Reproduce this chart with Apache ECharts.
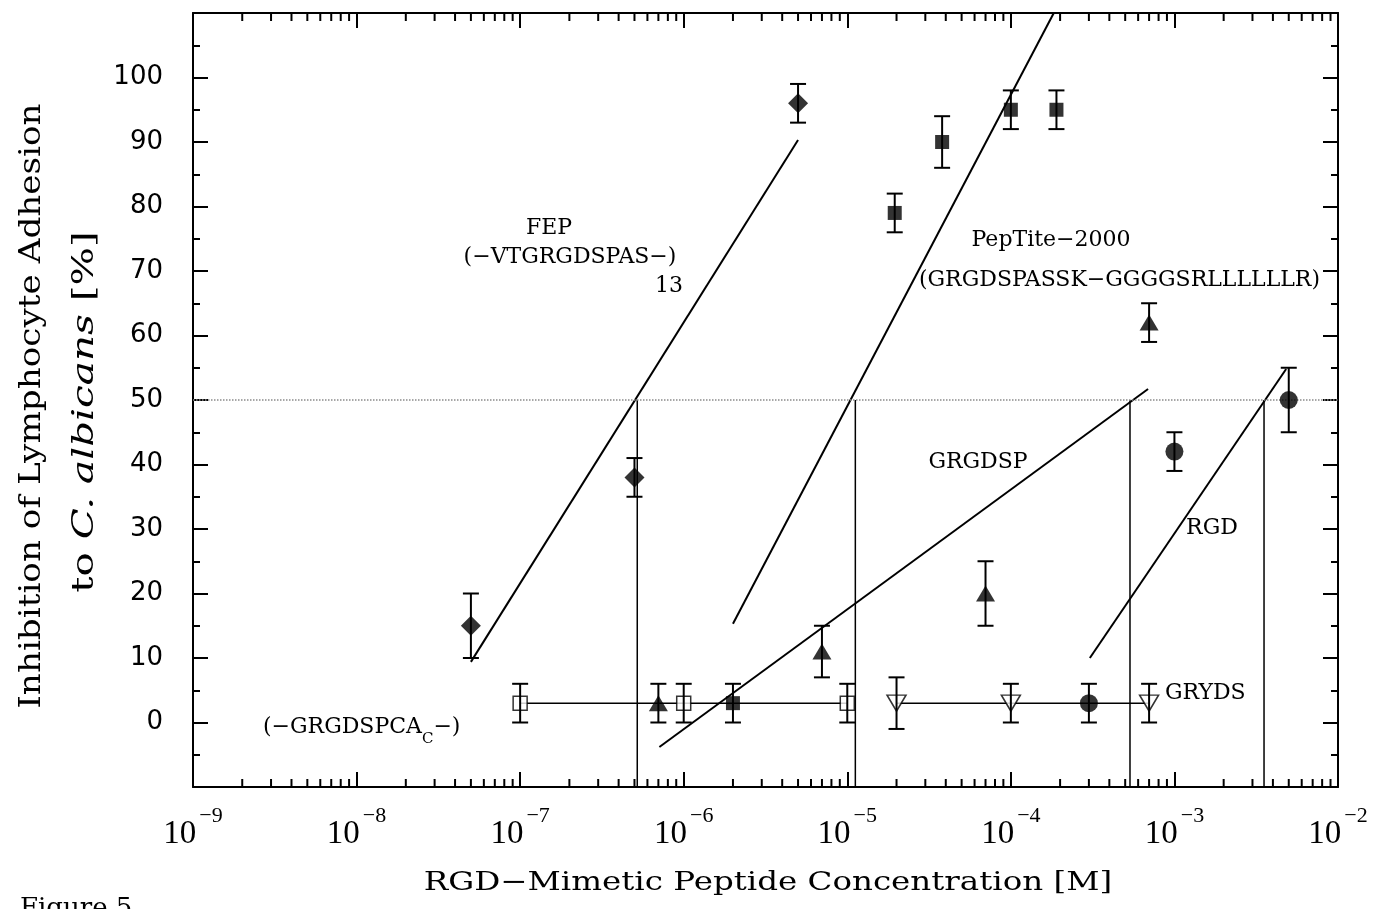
<!DOCTYPE html>
<html><head><meta charset="utf-8">
<script src="https://cdn.jsdelivr.net/npm/echarts@6/dist/echarts.min.js"></script>
<style>html,body{margin:0;padding:0;background:#fff}#c{width:1378px;height:909px}</style>
</head><body><div id="c"></div>
<script>
// ---- data ----
const xTickExponents = [-9, -8, -7, -6, -5, -4, -3, -2];
const yTickLabels = [0, 10, 20, 30, 40, 50, 60, 70, 80, 90, 100];

const fepX = [5e-8, 5e-7, 5e-6];
const fepY = [15, 38, 96];
const fepErr = [5, 3, 3];
const fepFitX = [5e-8, 5e-6];
const fepFitY = [9.4, 90.3];
const fepIC50 = 5.2e-7;

const pepX = [2e-6, 1.95e-5, 3.8e-5, 1e-4, 1.9e-4];
const pepY = [3, 79, 90, 95, 95];
const pepErr = [3, 3, 4, 3, 3];
const pepFitX = [2e-6, 1.83e-4];
const pepFitY = [15.3, 110];
const pepIC50 = 1.12e-5;

const grgdspX = [7e-7, 7e-6, 7e-5, 7e-4];
const grgdspY = [3, 11, 20, 62];
const grgdspErr = [3, 4, 5, 3];
const grgdspFitX = [7.1e-7, 6.9e-4];
const grgdspFitY = [-3.8, 51.7];
const grgdspIC50 = 5.35e-4;

const rgdX = [3e-4, 1e-3, 5e-3];
const rgdY = [3, 42, 50];
const rgdErr = [3, 3, 5];
const rgdFitX = [3.04e-4, 4.82e-3];
const rgdFitY = [10, 54.8];
const rgdIC50 = 3.53e-3;

const grgdspcaX = [1e-7, 1e-6, 1e-5];
const grgdspcaY = [3, 3, 3];
const grgdspcaErr = [3, 3, 3];

const grydsX = [2e-5, 1e-4, 7e-4];
const grydsY = [3, 3, 3];
const grydsErr = [4, 3, 3];

const yMin = -10, yMax = 110;

// ---- helpers ----
const pairs = (xs, ys) => xs.map((x, i) => [x, ys[i]]);
const errData = (xs, ys, es) => xs.map((x, i) => [x, ys[i] - es[i], ys[i] + es[i]]);
const vline = x => [[x, 50], [x, yMin]];
const BLACK = '#000';
const SERIF = '"DejaVu Serif", serif';

const minorVals = [];
for (let e = xTickExponents[0]; e < xTickExponents[xTickExponents.length - 1]; e++)
  for (let m = 2; m <= 9; m++) minorVals.push([m * Math.pow(10, e), 0]);

const allErr = [].concat(
  errData(fepX, fepY, fepErr), errData(pepX, pepY, pepErr),
  errData(grgdspX, grgdspY, grgdspErr), errData(rgdX, rgdY, rgdErr),
  errData(grgdspcaX, grgdspcaY, grgdspcaErr), errData(grydsX, grydsY, grydsErr));

const lineSeries = (data, width, z) => ({
  type: 'line', data, symbol: 'none', silent: true, z: z || 2,
  lineStyle: { color: BLACK, width: width || 2 }, animation: false
});

const chart = echarts.init(document.getElementById('c'), null, { renderer: 'canvas' });

const xAxisBase = {
  type: 'log', logBase: 10, min: 1e-9, max: 1e-2, splitNumber: 7,
  axisLine: { show: true, onZero: false, lineStyle: { color: BLACK, width: 2 } },
  axisTick: { show: true, inside: true, length: 15, lineStyle: { color: BLACK, width: 2 } },
  splitLine: { show: false }, minorTick: { show: false }
};
const yAxisBase = {
  type: 'value', min: yMin, max: yMax, interval: 10,
  axisLine: { show: true, onZero: false, lineStyle: { color: BLACK, width: 2 } },
  axisTick: { show: true, inside: true, length: 15, lineStyle: { color: BLACK, width: 2 } },
  minorTick: { show: true, splitNumber: 2, length: 7, lineStyle: { color: BLACK, width: 2 } },
  splitLine: { show: false }
};

const annot = (text, x, y, align) => ({
  type: 'text', x, y,
  style: { text, font: '22px ' + SERIF, fill: BLACK, align: align || 'center', verticalAlign: 'middle' }
});

chart.setOption({
  animation: false,
  backgroundColor: '#fff',
  grid: { left: 193, right: 40, top: 13, bottom: 122, containLabel: false },
  xAxis: [
    Object.assign({}, xAxisBase, {
      position: 'bottom',
      axisLabel: {
        margin: 18,
        formatter: v => {
          const e = Math.round(Math.log10(v));
          if (xTickExponents.indexOf(e) < 0) return '';
          return '{b|10}{s|' + (e < 0 ? '\u2212' : '') + Math.abs(e) + '}';
        },
        rich: {
          b: { fontFamily: '"Liberation Serif", serif', fontSize: 33, lineHeight: 46, verticalAlign: 'bottom', color: BLACK },
          s: { fontFamily: '"Liberation Serif", serif', fontSize: 22, lineHeight: 22, verticalAlign: 'top', color: BLACK, padding: [0, 0, 0, 3] }
        }
      }
    }),
    Object.assign({}, xAxisBase, { position: 'top', axisLabel: { show: false } })
  ],
  yAxis: [
    Object.assign({}, yAxisBase, {
      position: 'left',
      axisLabel: {
        margin: 30, color: BLACK, fontFamily: '"DejaVu Sans", sans-serif', fontSize: 26,
        formatter: v => yTickLabels.indexOf(v) >= 0 ? String(v) : ''
      }
    }),
    Object.assign({}, yAxisBase, { position: 'right', axisLabel: { show: false } })
  ],
  series: [
    // minor log ticks (bottom and top)
    {
      type: 'custom', silent: true, z: 3, clip: false, data: minorVals, encode: { x: 0, y: 1 },
      renderItem: (params, api) => {
        const v = api.value(0);
        const b = api.coord([v, yMin]);
        const t = api.coord([v, yMax]);
        const st = { stroke: BLACK, lineWidth: 2 };
        return { type: 'group', children: [
          { type: 'line', shape: { x1: b[0], y1: b[1], x2: b[0], y2: b[1] - 8 }, style: st },
          { type: 'line', shape: { x1: t[0], y1: t[1], x2: t[0], y2: t[1] + 8 }, style: st }
        ]};
      }
    },
    // fitted lines
    Object.assign(lineSeries(pairs(fepFitX, fepFitY)), {
      markLine: {
        silent: true, symbol: 'none', label: { show: false },
        lineStyle: { type: 'dotted', color: '#8a8a8a', width: 1.5 },
        data: [{ yAxis: 50 }]
      }
    }),
    lineSeries(pairs(pepFitX, pepFitY)),
    lineSeries(pairs(grgdspFitX, grgdspFitY)),
    lineSeries(pairs(rgdFitX, rgdFitY)),
    // IC50 drop lines
    lineSeries(vline(fepIC50), 1.5),
    lineSeries(vline(pepIC50), 1.5),
    lineSeries(vline(grgdspIC50), 1.5),
    lineSeries(vline(rgdIC50), 1.5),
    // connectors of the flat series
    lineSeries(pairs(grgdspcaX, grgdspcaY), 1.5),
    lineSeries(pairs(grydsX, grydsY), 1.5),
    // open markers
    { type: 'scatter', z: 4, data: pairs(grgdspcaX, grgdspcaY), symbol: 'rect', symbolSize: 14,
      itemStyle: { color: '#fff', borderColor: BLACK, borderWidth: 1.5 } },
    { type: 'scatter', z: 4, data: pairs(grydsX, grydsY), symbol: 'triangle', symbolRotate: 180, symbolSize: [19, 16],
      itemStyle: { color: '#fff', borderColor: BLACK, borderWidth: 1.5 } },
    // error bars
    {
      type: 'custom', silent: true, z: 5, clip: false, data: allErr, encode: { x: 0, y: [1, 2] },
      renderItem: (params, api) => {
        const x = api.value(0);
        const lo = api.coord([x, api.value(1)]);
        const hi = api.coord([x, api.value(2)]);
        const w = 8;
        const st = { stroke: BLACK, lineWidth: 2 };
        return { type: 'group', children: [
          { type: 'line', shape: { x1: lo[0], y1: lo[1], x2: hi[0], y2: hi[1] }, style: st },
          { type: 'line', shape: { x1: lo[0] - w, y1: lo[1], x2: lo[0] + w, y2: lo[1] }, style: st },
          { type: 'line', shape: { x1: hi[0] - w, y1: hi[1], x2: hi[0] + w, y2: hi[1] }, style: st }
        ]};
      }
    },
    // filled markers
    { type: 'scatter', z: 6, data: pairs(fepX, fepY), symbol: 'diamond', symbolSize: [20, 20], itemStyle: { color: BLACK } },
    { type: 'scatter', z: 6, data: pairs(pepX, pepY), symbol: 'rect', symbolSize: 14, itemStyle: { color: BLACK } },
    { type: 'scatter', z: 6, data: pairs(grgdspX, grgdspY), symbol: 'triangle', symbolSize: [19, 16], itemStyle: { color: BLACK } },
    { type: 'scatter', z: 6, data: pairs(rgdX, rgdY), symbol: 'circle', symbolSize: 18, itemStyle: { color: BLACK } }
  ],
  graphic: [
    annot('FEP', 549, 228),
    annot('(\u2212VTGRGDSPAS\u2212)', 570, 257),
    annot('13', 669, 286),
    annot('PepTite\u22122000', 1051, 240),
    annot('(GRGDSPASSK\u2212GGGGSRLLLLLLR)', 1320, 280, 'right'),
    annot('GRGDSP', 978, 462),
    annot('RGD', 1212, 528),
    annot('GRYDS', 1165, 693, 'left'),
    { type: 'text', x: 263, y: 716, style: {
        text: '{a|(\u2212GRGDSPCA}{s|C}{a|\u2212)}', align: 'left', verticalAlign: 'top',
        rich: {
          a: { fontFamily: SERIF, fontSize: 22, lineHeight: 22, verticalAlign: 'top', fill: BLACK },
          s: { fontFamily: SERIF, fontSize: 15, lineHeight: 31, verticalAlign: 'bottom', fill: BLACK }
        } } },
    // axis titles
    { type: 'text', x: 768, y: 883, scaleX: 1.25, style: { text: 'RGD\u2212Mimetic Peptide Concentration [M]', font: '26px ' + SERIF, fill: BLACK, align: 'center', verticalAlign: 'middle' } },
    { type: 'text', x: 32, y: 406, rotation: Math.PI / 2, scaleX: 1.14, style: { text: 'Inhibition of Lymphocyte Adhesion', font: '30px ' + SERIF, fill: BLACK, align: 'center', verticalAlign: 'middle' } },
    { type: 'text', x: 85, y: 412, rotation: Math.PI / 2, scaleX: 1.35, style: {
        text: '{n|to }{i|C. albicans}{n| [%]}', align: 'center', verticalAlign: 'middle',
        rich: {
          n: { fontFamily: SERIF, fontSize: 30, fill: BLACK },
          i: { fontFamily: SERIF, fontSize: 30, fontStyle: 'italic', fill: BLACK }
        } } },
    { type: 'text', x: 20, y: 896, style: { text: 'Figure 5', font: '26px ' + SERIF, fill: BLACK, align: 'left', verticalAlign: 'top' } }
  ]
});
</script></body></html>
